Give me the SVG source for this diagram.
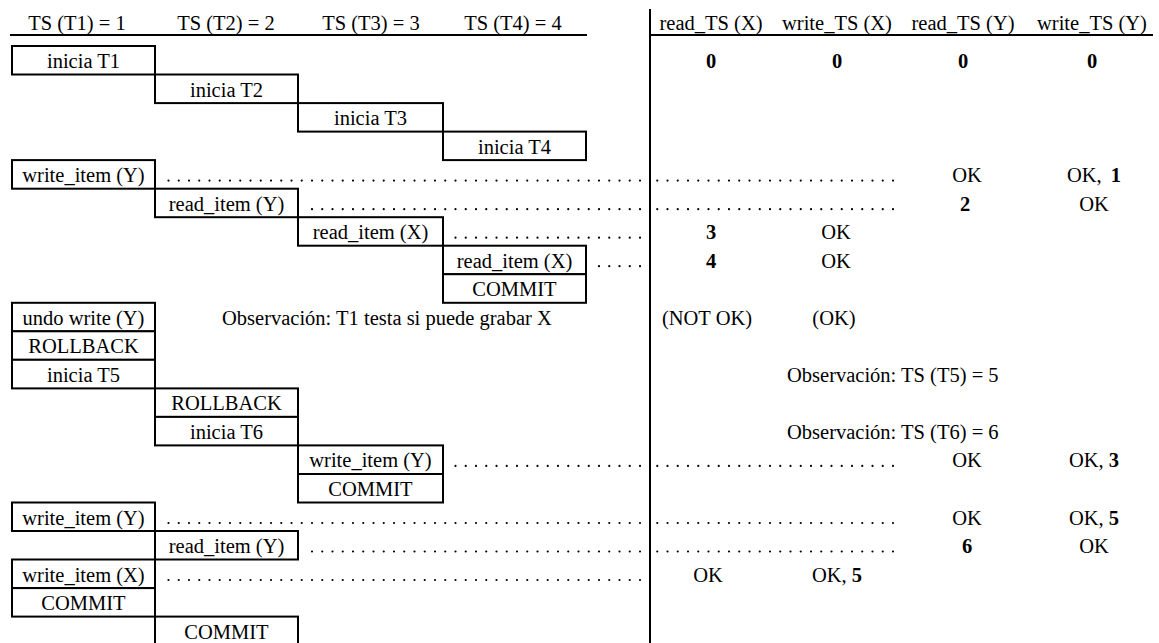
<svg xmlns="http://www.w3.org/2000/svg" width="1159" height="643" viewBox="0 0 1159 643">
<style>
text{font-family:"Liberation Serif","Times New Roman",serif;font-size:20.5px;fill:#000}
.c{text-anchor:middle}
.b{font-weight:bold}
.box{fill:#fff;stroke:#000;stroke-width:2}
.rule{stroke:#000;stroke-width:2;fill:none}
.dots{stroke:#000;stroke-width:2.2;stroke-linecap:round;stroke-dasharray:0 10.25;fill:none}
</style>
<rect width="1159" height="643" fill="#fff"/>
<g id="header">
<line class="rule" x1="10" y1="35" x2="587" y2="35"/>
<line class="rule" x1="650" y1="35" x2="1153" y2="35"/>
<line class="rule" x1="650" y1="9" x2="650" y2="643"/>
<text class="c" x="77" y="30">TS (T1) = 1</text>
<text class="c" x="226" y="30">TS (T2) = 2</text>
<text class="c" x="371" y="30">TS (T3) = 3</text>
<text class="c" x="513" y="30">TS (T4) = 4</text>
<text class="c" x="711" y="30">read_TS (X)</text>
<text class="c" x="837" y="30">write_TS (X)</text>
<text class="c" x="963" y="30">read_TS (Y)</text>
<text class="c" x="1092" y="30">write_TS (Y)</text>
</g>
<g id="connectors">
<line class="dots" x1="640" y1="180.6" x2="163" y2="180.6"/>
<line class="dots" x1="893" y1="180.6" x2="656" y2="180.6"/>
<line class="dots" x1="640" y1="209.2" x2="306" y2="209.2"/>
<line class="dots" x1="893" y1="209.2" x2="656" y2="209.2"/>
<line class="dots" x1="640" y1="237.7" x2="451" y2="237.7"/>
<line class="dots" x1="640" y1="266.2" x2="595" y2="266.2"/>
<line class="dots" x1="640" y1="465.9" x2="451" y2="465.9"/>
<line class="dots" x1="893" y1="465.9" x2="656" y2="465.9"/>
<line class="dots" x1="640" y1="523" x2="163" y2="523"/>
<line class="dots" x1="893" y1="523" x2="656" y2="523"/>
<line class="dots" x1="640" y1="551.5" x2="306" y2="551.5"/>
<line class="dots" x1="893" y1="551.5" x2="656" y2="551.5"/>
<line class="dots" x1="640" y1="580" x2="163" y2="580"/>
</g>
<g id="n-inicia-t1"><rect class="box" x="12" y="46" width="143" height="28.5"/><text class="c" x="83.5" y="68">inicia T1</text></g>
<g id="n-inicia-t2"><rect class="box" x="155" y="74.5" width="143" height="28.6"/><text class="c" x="226.5" y="96.5">inicia T2</text></g>
<g id="n-inicia-t3"><rect class="box" x="298" y="103.1" width="145" height="28.5"/><text class="c" x="370.5" y="125.1">inicia T3</text></g>
<g id="n-inicia-t4"><rect class="box" x="443" y="131.6" width="143" height="28.5"/><text class="c" x="514.5" y="153.6">inicia T4</text></g>
<g id="n-t1-write-y"><rect class="box" x="12" y="160.1" width="143" height="28.6"/><text class="c" x="83.5" y="182.1">write_item (Y)</text></g>
<g id="n-t2-read-y"><rect class="box" x="155" y="188.7" width="143" height="28.5"/><text class="c" x="226.5" y="210.7">read_item (Y)</text></g>
<g id="n-t3-read-x"><rect class="box" x="298" y="217.2" width="145" height="28.5"/><text class="c" x="370.5" y="239.2">read_item (X)</text></g>
<g id="n-t4-read-x"><rect class="box" x="443" y="245.7" width="143" height="28.5"/><text class="c" x="514.5" y="267.7">read_item (X)</text></g>
<g id="n-t4-commit"><rect class="box" x="443" y="274.2" width="143" height="28.6"/><text class="c" x="514.5" y="296.2">COMMIT</text></g>
<g id="n-t1-undo"><rect class="box" x="12" y="302.8" width="143" height="28.5"/><text class="c" x="83.5" y="324.8">undo write (Y)</text></g>
<g id="n-t1-rollback"><rect class="box" x="12" y="331.3" width="143" height="28.5"/><text class="c" x="83.5" y="353.3">ROLLBACK</text></g>
<g id="n-inicia-t5"><rect class="box" x="12" y="359.8" width="143" height="28.6"/><text class="c" x="83.5" y="381.8">inicia T5</text></g>
<g id="n-t2-rollback"><rect class="box" x="155" y="388.4" width="143" height="28.5"/><text class="c" x="226.5" y="410.4">ROLLBACK</text></g>
<g id="n-inicia-t6"><rect class="box" x="155" y="416.9" width="143" height="28.5"/><text class="c" x="226.5" y="438.9">inicia T6</text></g>
<g id="n-t6-write-y"><rect class="box" x="298" y="445.4" width="145" height="28.6"/><text class="c" x="370.5" y="467.4">write_item (Y)</text></g>
<g id="n-t6-commit"><rect class="box" x="298" y="474" width="145" height="28.5"/><text class="c" x="370.5" y="496">COMMIT</text></g>
<g id="n-t5-write-y"><rect class="box" x="12" y="502.5" width="143" height="28.5"/><text class="c" x="83.5" y="524.5">write_item (Y)</text></g>
<g id="n-t2b-read-y"><rect class="box" x="155" y="531" width="143" height="28.5"/><text class="c" x="226.5" y="553">read_item (Y)</text></g>
<g id="n-t5-write-x"><rect class="box" x="12" y="559.5" width="143" height="28.6"/><text class="c" x="83.5" y="581.5">write_item (X)</text></g>
<g id="n-t5-commit"><rect class="box" x="12" y="588.1" width="143" height="28.5"/><text class="c" x="83.5" y="610.1">COMMIT</text></g>
<g id="n-t6b-commit"><rect class="box" x="155" y="616.6" width="143" height="30"/><text class="c" x="226.5" y="638.6">COMMIT</text></g>
<g id="values">
<text class="c b" x="711" y="68">0</text>
<text class="c b" x="837" y="68">0</text>
<text class="c b" x="963" y="68">0</text>
<text class="c b" x="1092" y="68">0</text>
<text class="c" x="967" y="182.1">OK</text>
<text class="c" x="1094" y="182.1">OK,<tspan class="b" dx="9">1</tspan></text>
<text class="c b" x="965" y="210.7">2</text>
<text class="c" x="1094" y="210.7">OK</text>
<text class="c b" x="711" y="239.2">3</text>
<text class="c" x="836" y="239.2">OK</text>
<text class="c b" x="711" y="267.7">4</text>
<text class="c" x="836" y="267.7">OK</text>
<text x="222" y="324.8">Observación: T1 testa si puede grabar X</text>
<text class="c" x="707" y="324.8">(NOT OK)</text>
<text class="c" x="834" y="324.8">(OK)</text>
<text x="787" y="381.8">Observación: TS (T5) = 5</text>
<text x="787" y="438.9">Observación: TS (T6) = 6</text>
<text class="c" x="967" y="467.4">OK</text>
<text class="c" x="1094" y="467.4">OK, <tspan class="b">3</tspan></text>
<text class="c" x="967" y="524.5">OK</text>
<text class="c" x="1094" y="524.5">OK, <tspan class="b">5</tspan></text>
<text class="c b" x="967" y="553">6</text>
<text class="c" x="1094" y="553">OK</text>
<text class="c" x="708" y="581.5">OK</text>
<text class="c" x="837" y="581.5">OK, <tspan class="b">5</tspan></text>
</g>
</svg>
